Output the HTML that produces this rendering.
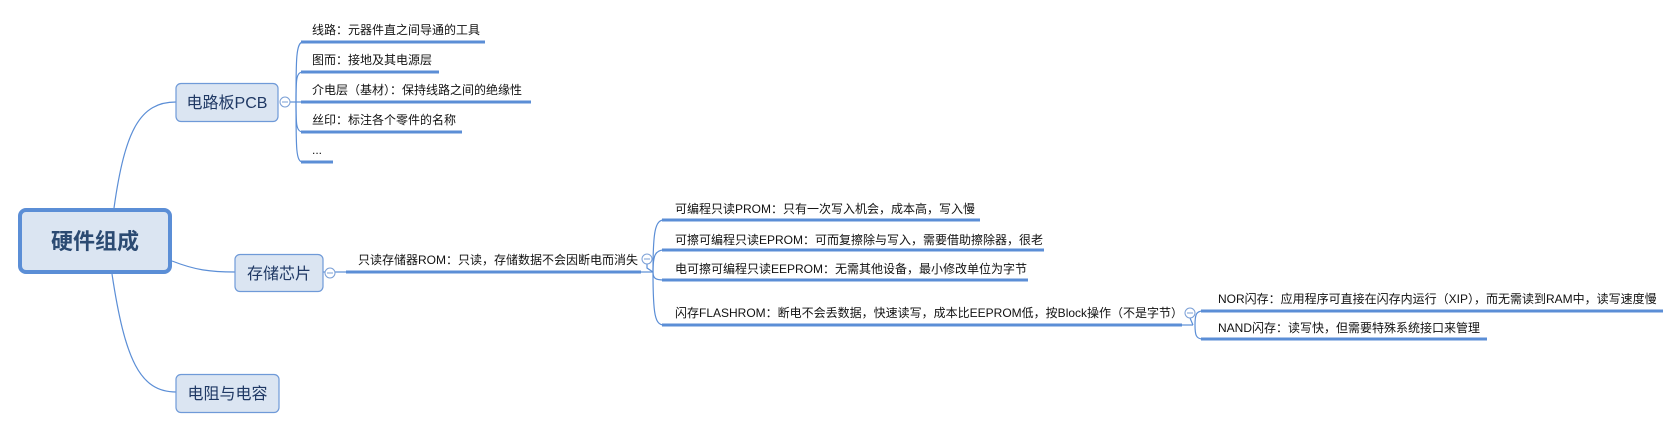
<!DOCTYPE html>
<html><head><meta charset="utf-8"><style>
html,body{margin:0;padding:0;background:#fff;}
svg{display:block;}
text{font-family:"Liberation Sans","Noto Sans CJK SC",sans-serif;}
.t{font-size:12px;fill:#111;}
.b{font-size:16px;fill:#1f3864;}
</style></head><body>
<svg width="1666" height="429" viewBox="0 0 1666 429" xmlns="http://www.w3.org/2000/svg">
<g fill="none" stroke="#5b8ed6" stroke-width="1.2">
<!-- root connectors -->
<path d="M114 208 C125 130 140 102 176 102"/>
<path d="M172 261 C195 270 210 272 235 272"/>
<path d="M112 274 C125 360 140 392 176 392"/>
<!-- PCB spine -->
<path d="M290 102 L296 102"/>
<path d="M296 102 C296 60 296 42 303 42"/>
<path d="M296 102 C296 80 296 72 303 72"/>
<path d="M296 102 L303 102"/>
<path d="M296 102 C296 124 296 132 303 132"/>
<path d="M296 102 C296 150 296 162 303 162"/>
<!-- storage -->
<path d="M323 272 L326 272"/>
<path d="M334 272 L346 272"/>
<path d="M641 272 L653 272"/>
<path d="M647 264 L647 268 L653 272"/>
<path d="M653 272 C653 232 655 220 664 220"/>
<path d="M653 272 C653 256 655 250 664 250"/>
<path d="M653 272 C653 278 655 280 664 280"/>
<path d="M653 272 C653 315 655 325 664 325"/>
<!-- flash -->
<path d="M1182 325 L1193 325"/>
<path d="M1190 318 L1193 325"/>
<path d="M1195 325 C1195 315 1196 311 1203 311"/>
<path d="M1195 325 C1195 335 1196 339 1203 339"/>
</g>
<!-- underlines -->
<g stroke="#5b8ed6" stroke-width="3" fill="none">
<line x1="301" y1="42" x2="485" y2="42"/>
<line x1="301" y1="72" x2="439" y2="72"/>
<line x1="301" y1="102" x2="531" y2="102"/>
<line x1="301" y1="132" x2="462" y2="132"/>
<line x1="301" y1="162" x2="333" y2="162"/>
<line x1="346" y1="272" x2="641" y2="272"/>
<line x1="662" y1="220" x2="980" y2="220"/>
<line x1="662" y1="250" x2="1044" y2="250"/>
<line x1="662" y1="280" x2="1028" y2="280"/>
<line x1="662" y1="325" x2="1182" y2="325"/>
<line x1="1201" y1="311" x2="1663" y2="311"/>
<line x1="1201" y1="339" x2="1487" y2="339"/>
</g>
<!-- collapse circles -->
<g fill="#fff" stroke="#7a9fd6" stroke-width="1">
<circle cx="285" cy="102" r="5"/>
<circle cx="330" cy="273" r="5"/>
<circle cx="647" cy="259" r="5"/>
<circle cx="1190" cy="313" r="5"/>
</g>
<g stroke="#7a9fd6" stroke-width="1">
<line x1="282" y1="102" x2="288" y2="102"/>
<line x1="327" y1="273" x2="333" y2="273"/>
<line x1="644" y1="259" x2="650" y2="259"/>
<line x1="1187" y1="313" x2="1193" y2="313"/>
</g>
<!-- boxes -->
<rect x="20" y="210" width="150" height="62" rx="6" fill="#dbe5f2" stroke="#5b8ed6" stroke-width="4"/>
<text x="95" y="249" text-anchor="middle" style="font-size:22px;font-weight:bold;fill:#2b4a72">硬件组成</text>
<rect x="176" y="83.5" width="102" height="38" rx="5" fill="#dbe5f2" stroke="#6f9ad8" stroke-width="1.2"/>
<text class="b" x="227" y="108" text-anchor="middle">电路板PCB</text>
<rect x="235" y="254.5" width="88" height="37" rx="5" fill="#dbe5f2" stroke="#6f9ad8" stroke-width="1.2"/>
<text class="b" x="279" y="279" text-anchor="middle">存储芯片</text>
<rect x="176" y="374.5" width="103" height="38" rx="5" fill="#dbe5f2" stroke="#6f9ad8" stroke-width="1.2"/>
<text class="b" x="227.5" y="399" text-anchor="middle">电阻与电容</text>
<!-- texts -->
<text class="t" x="312" y="34">线路：元器件直之间导通的工具</text>
<text class="t" x="312" y="64">图而：接地及其电源层</text>
<text class="t" x="312" y="94">介电层（基材）：保持线路之间的绝缘性</text>
<text class="t" x="312" y="124">丝印：标注各个零件的名称</text>
<text class="t" x="312" y="154">...</text>
<text class="t" x="358" y="264">只读存储器ROM：只读，存储数据不会因断电而消失</text>
<text class="t" x="675" y="213">可编程只读PROM：只有一次写入机会，成本高，写入慢</text>
<text class="t" x="675" y="244">可擦可编程只读EPROM：可而复擦除与写入，需要借助擦除器，很老</text>
<text class="t" x="675" y="273">电可擦可编程只读EEPROM：无需其他设备，最小修改单位为字节</text>
<text class="t" x="675" y="317">闪存FLASHROM：断电不会丢数据，快速读写，成本比EEPROM低，按Block操作（不是字节）</text>
<text class="t" x="1218" y="303">NOR闪存：应用程序可直接在闪存内运行（XIP），而无需读到RAM中，读写速度慢</text>
<text class="t" x="1218" y="332">NAND闪存：读写快，但需要特殊系统接口来管理</text>
</svg>
</body></html>
